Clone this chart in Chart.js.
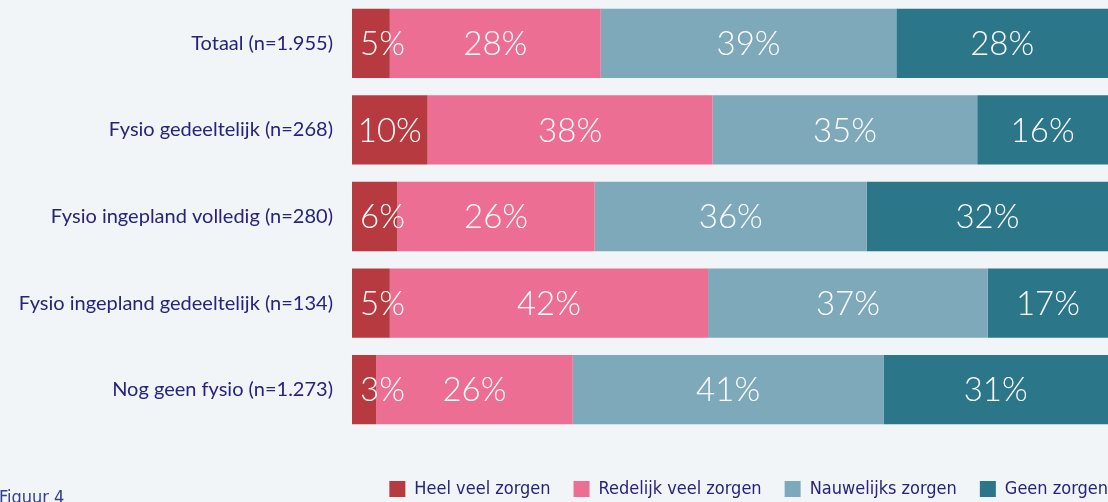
<!DOCTYPE html>
<html lang="nl">
  <head>
    <meta charset="utf-8" />
    <title>Figuur 4</title>
    <style>
      html, body { margin: 0; padding: 0; background: #f1f5f8; }
      .wrap { position: relative; width: 1108px; height: 502px; overflow: hidden; }
      .figuur {
        position: absolute; left: -1px; top: 486px;
        font-family: "DejaVu Sans Condensed", "DejaVu Sans", sans-serif;
        font-size: 18px; color: #34408e;
      }
    </style>
  </head>
  <body>
    <div class="wrap">
      <canvas id="lienzo" width="1108" height="502"></canvas>
      <div class="figuur">Figuur 4</div>
    </div>

    <script src="https://cdn.jsdelivr.net/npm/chart.js"></script>
    <script>
      // categorieen en reeksen
      const categorieen = [
        "Totaal (n=1.955)",
        "Fysio gedeeltelijk (n=268)",
        "Fysio ingepland volledig (n=280)",
        "Fysio ingepland gedeeltelijk (n=134)",
        "Nog geen fysio (n=1.273)",
      ];
      const reeksNamen = ["Heel veel zorgen", "Redelijk veel zorgen", "Nauwelijks zorgen", "Geen zorgen"];
      const kleuren = ["#b83a41", "#ec6e92", "#7da9bb", "#2b7689"];

      const heelVeel = [5.0, 10.0, 6.0, 5.0, 3.2];
      const redelijkVeel = [27.9, 37.7, 26.1, 42.1, 26.0];
      const nauwelijks = [39.1, 35.0, 36.0, 37.0, 41.1];
      const geen = [28.0, 17.3, 31.9, 15.9, 29.7];

      // labels zoals ze in de figuur staan
      const heelVeelTekst = ["5%", "10%", "6%", "5%", "3%"];
      const redelijkVeelTekst = ["28%", "38%", "26%", "42%", "26%"];
      const nauwelijksTekst = ["39%", "35%", "36%", "37%", "41%"];
      const geenTekst = ["28%", "16%", "32%", "17%", "31%"];

      const reeksen = [heelVeel, redelijkVeel, nauwelijks, geen];
      const teksten = [heelVeelTekst, redelijkVeelTekst, nauwelijksTekst, geenTekst];

      const legendaPadding = 23;

      const waardeLabels = {
        id: "waardeLabels",
        afterDatasetsDraw(chart) {
          const ctx = chart.ctx;
          ctx.save();
          ctx.font = "300 33px Lato, 'Open Sans', sans-serif";
          ctx.fillStyle = "#ffffff";
          ctx.textBaseline = "middle";
          ctx.textAlign = "center";
          chart.data.datasets.forEach((ds, d) => {
            chart.getDatasetMeta(d).data.forEach((bar, i) => {
              const tekst = teksten[d][i];
              const links = Math.min(bar.x, bar.base);
              const breedte = Math.abs(bar.x - bar.base);
              const tw = ctx.measureText(tekst).width;
              let x = links + breedte / 2;
              if (tw + 8 > breedte) x = links + 8 + tw / 2;
              ctx.fillText(tekst, x, bar.y + 1);
            });
          });
          ctx.restore();
        },
      };

      // legenda tegen de rechterrand en op de juiste hoogte
      const legendaPositie = {
        id: "legendaPositie",
        afterLayout(chart) {
          const lg = chart.legend;
          lg.left += legendaPadding;
          lg.right += legendaPadding;
          const h = lg.bottom - lg.top;
          lg.top = 457;
          lg.bottom = lg.top + h;
        },
      };

      const grafiek = new Chart(document.querySelector("#lienzo"), {
        type: "bar",
        data: {
          labels: categorieen,
          datasets: reeksen.map((r, i) => ({
            label: reeksNamen[i],
            data: r,
            backgroundColor: kleuren[i],
            borderWidth: 0,
            barPercentage: 0.8,
            categoryPercentage: 1,
          })),
        },
        options: {
          indexAxis: "y",
          responsive: false,
          animation: false,
          layout: { padding: { top: 0, right: 0, bottom: 18, left: 0 } },
          scales: {
            x: { stacked: true, min: 0, max: 100, display: false },
            y: {
              stacked: true,
              grid: { display: false },
              border: { display: false },
              ticks: {
                padding: 11,
                color: "#25247a",
                font: { family: "Lato, 'Open Sans', sans-serif", size: 20 },
              },
              afterFit(scale) {
                scale.width = 352;
                scale.paddingTop = 0;
                scale.paddingBottom = 0;
              },
            },
          },
          plugins: {
            tooltip: { enabled: false },
            legend: {
              position: "bottom",
              align: "end",
              labels: {
                boxWidth: 16,
                boxHeight: 16,
                padding: legendaPadding,
                color: "#25247a",
                font: { family: "'DejaVu Sans Condensed', 'DejaVu Sans', sans-serif", size: 18 },
              },
            },
          },
        },
        plugins: [waardeLabels, legendaPositie],
      });
    </script>
  </body>
</html>
